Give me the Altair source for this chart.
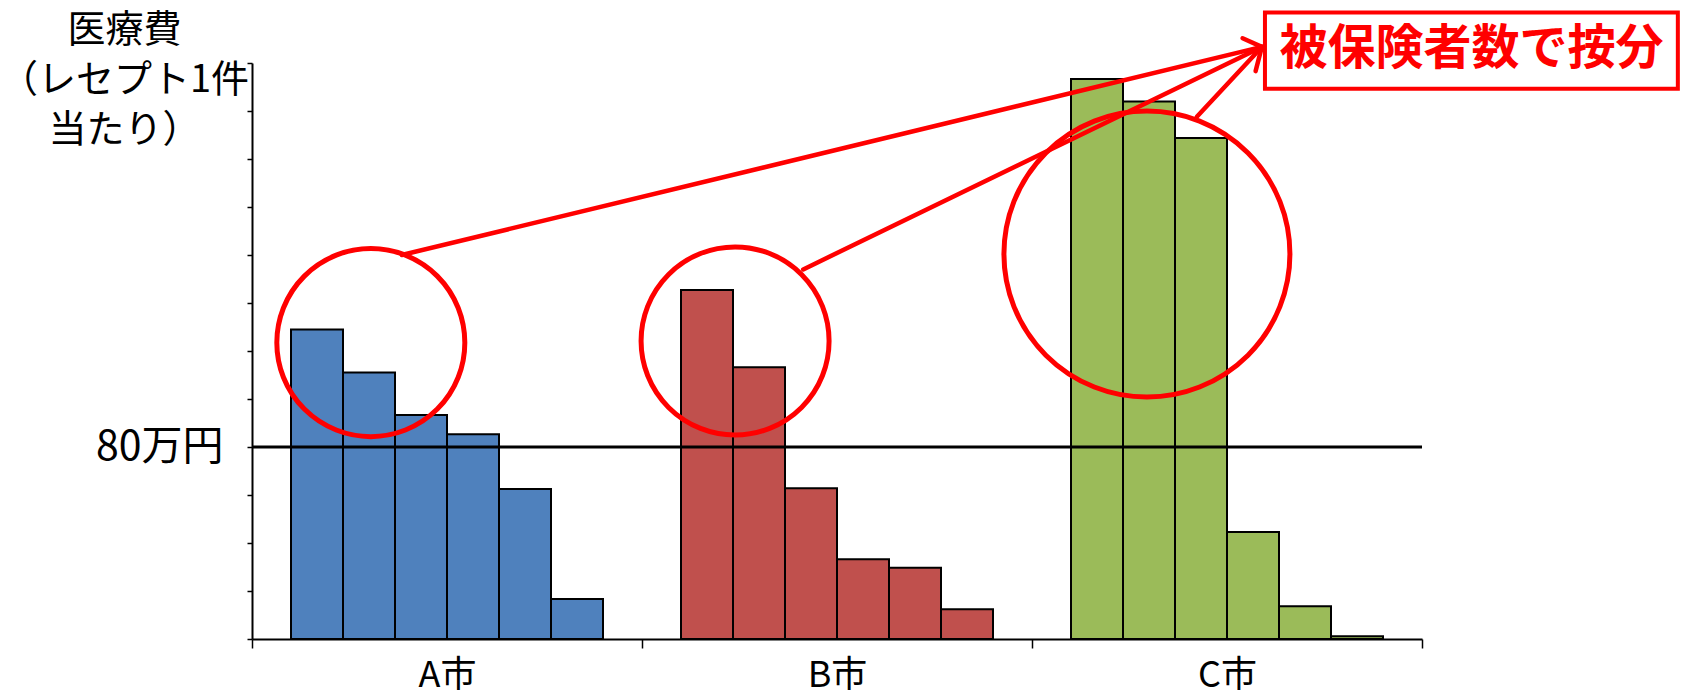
import altair as alt
import pandas as pd

# ---- data ----
cities = ["A市", "B市", "C市"]
ranks = [1, 2, 3, 4, 5, 6]
a_vals = [129.0, 111.0, 93.3, 85.3, 62.5, 16.7]
b_vals = [145.4, 113.2, 62.8, 33.2, 29.7, 12.4]
c_vals = [233.3, 224.0, 208.8, 44.6, 13.6, 1.1]
colors = ["#4F81BD", "#C0504D", "#9BBB59"]
threshold = 80
y_ticks = list(range(0, 241, 10))
y_title = ["医療費", "（レセプト1件", "当たり）"]
note_text = "被保険者数で按分"

# annotation geometry (in a helper quantitative x scale 0..22.5, and the value y scale)
circle_x = [2.285, 9.29, 17.21]
circle_y = [123.5, 124.2, 160.4]
circle_size = [35344, 35344, 81796]
line_x = [2.88, 10.60, 18.17, 19.42, 19.42]
line_y = [160.0, 154.0, 217.6, 246.7, 246.7]
line_x2 = [19.42, 19.42, 19.42, 19.05, 19.30]
line_y2 = [246.7, 246.7, 246.7, 250.3, 236.6]
box_x, box_x2, box_y, box_y2 = [19.48], [27.42], [261.0], [229.3]
text_x, text_y = [23.45], [245.3]

FONT = "Noto Sans CJK JP"

rows = []
for c, vals in zip(cities, [a_vals, b_vals, c_vals]):
    for r, v in zip(ranks, vals):
        rows.append({"city": c, "rank": r, "value": v})
bars_df = pd.DataFrame(rows)

yscale = alt.Scale(domain=[0, 240], nice=False, zero=True)
xq = alt.Scale(domain=[0, 22.5], nice=False, zero=False)

bars = alt.Chart(bars_df).mark_bar(stroke="black", strokeWidth=2, opacity=1).encode(
    x=alt.X("city:N", sort=cities, scale=alt.Scale(paddingInner=0, paddingOuter=0),
            axis=alt.Axis(title=None, labelAngle=0, labelFont=FONT, labelFontSize=36,
                          labelColor="black", tickBand="extent", tickSize=9, tickWidth=1.5,
                          tickColor="black", domainColor="black", domainWidth=2,
                          labelPadding=10, grid=False)),
    xOffset=alt.XOffset("rank:O", scale=alt.Scale(paddingInner=0, paddingOuter=0.75)),
    y=alt.Y("value:Q", scale=yscale,
            axis=alt.Axis(values=y_ticks, grid=False, tickSize=5, tickWidth=1.5,
                          tickColor="black", domainColor="black", domainWidth=2,
                          labelExpr="datum.value == 80 ? '80万円' : ''",
                          labelFont=FONT, labelFontSize=41, labelColor="black",
                          labelPadding=24, labelOverlap=False,
                          title=y_title, titleAngle=0, titleAlign="center",
                          titleBaseline="top", titleX=-128, titleY=-52,
                          titleFont=FONT, titleFontSize=38, titleFontWeight="normal",
                          titleColor="black", titleLineHeight=50)),
    color=alt.Color("city:N", sort=cities, scale=alt.Scale(domain=cities, range=colors), legend=None),
)

rule80 = alt.Chart(pd.DataFrame({"v": [threshold]})).mark_rule(color="black", strokeWidth=3).encode(
    y=alt.Y("v:Q", scale=yscale)
)

circ_df = pd.DataFrame({"x": circle_x, "y": circle_y, "s": circle_size})
circles = alt.Chart(circ_df).mark_point(shape="circle", filled=False, stroke="#FF0000",
                                        strokeWidth=5, opacity=1).encode(
    x=alt.X("x:Q", scale=xq, axis=None),
    y=alt.Y("y:Q", scale=yscale),
    size=alt.Size("s:Q", scale=None, legend=None),
)

line_df = pd.DataFrame({"x": line_x, "y": line_y, "x2": line_x2, "y2": line_y2})
lines = alt.Chart(line_df).mark_rule(color="#FF0000", strokeWidth=4.5, strokeCap="round").encode(
    x=alt.X("x:Q", scale=xq, axis=None),
    y=alt.Y("y:Q", scale=yscale),
    x2="x2:Q",
    y2="y2:Q",
)

box_df = pd.DataFrame({"x": box_x, "x2": box_x2, "y": box_y, "y2": box_y2})
box = alt.Chart(box_df).mark_rect(fill="white", stroke="#FF0000", strokeWidth=4).encode(
    x=alt.X("x:Q", scale=xq, axis=None),
    x2="x2:Q",
    y=alt.Y("y:Q", scale=yscale),
    y2="y2:Q",
)

txt_df = pd.DataFrame({"x": text_x, "y": text_y, "t": [note_text]})
txt = alt.Chart(txt_df).mark_text(font=FONT, fontSize=48, fontWeight="bold", color="#FF0000",
                                  align="center", baseline="middle").encode(
    x=alt.X("x:Q", scale=xq, axis=None),
    y=alt.Y("y:Q", scale=yscale),
    text="t:N",
)

chart = alt.layer(bars, rule80, circles, lines, box, txt).resolve_scale(
    x="independent"
).properties(
    width=1170, height=576,
    autosize=alt.AutoSizeParams(type="none"),
    padding={"left": 244, "top": 55, "right": 261, "bottom": 52},
    background="white",
).configure_view(stroke=None)

chart.save("out.html", embed_options={"renderer": "svg", "actions": False})
